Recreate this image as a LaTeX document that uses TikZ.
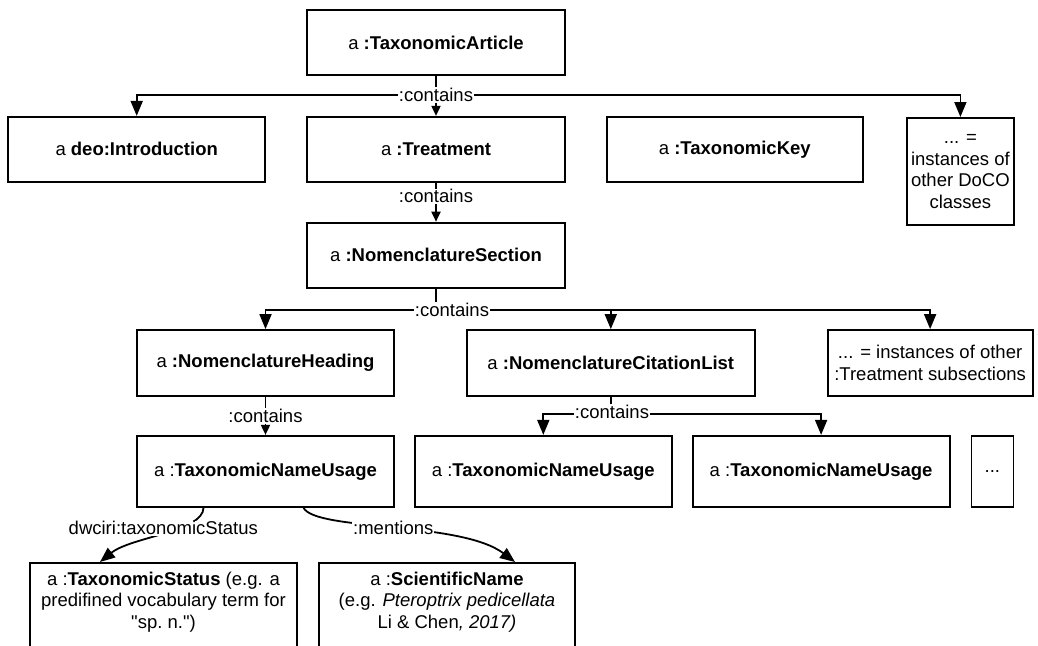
\documentclass[tikz,border=0pt]{standalone}
\usepackage{fontspec}
\setmainfont{Liberation Sans}[Ligatures=TeXOff]
\usetikzlibrary{arrows.meta,positioning}
\tikzset{
  classbox/.style={
    draw, line width=1.8pt, align=center, inner sep=2pt,
    font=\fontsize{18.5}{21.5}\selectfont,
  },
  rowbox/.style={classbox, minimum width=258pt, minimum height=65pt},
  cutbox/.style={classbox, anchor=north, inner ysep=9pt, text depth=40pt},
  link/.style={line width=1.8pt},
  arrow/.style={-{Triangle[length=15pt,width=12pt]}, line width=1.8pt},
  sarrow/.style={-{Triangle[length=10pt,width=9pt]}, line width=1.8pt},
  lbl/.style={fill=white, inner sep=1pt, font=\fontsize{18.5}{21.5}\selectfont},
}
\begin{document}
\begin{tikzpicture}[x=1pt,y=1pt]
  \path[use as bounding box, clip] (0,0) rectangle (1038,-645);

  % article and its parts
  \node[rowbox] (article) at (436,-42.5) {a \textbf{:TaxonomicArticle}};
  \node[rowbox, below=40pt of article] (treatment) {a \textbf{:Treatment}};
  \node[rowbox, minimum width=257pt, left=40pt of treatment] (intro) {a \textbf{deo:Introduction}};
  \node[rowbox, minimum width=256pt, right=40pt of treatment] (taxkey) {a \textbf{:TaxonomicKey}};
  \node[classbox, minimum width=107pt, minimum height=107pt, inner xsep=1pt,
        anchor=north west] (doco) at (906,-117)
    {... =\\instances of\\other DoCO\\classes};

  % treatment subsections
  \node[rowbox, below=39pt of treatment] (section) {a \textbf{:NomenclatureSection}};
  \node[rowbox, minimum width=257pt, minimum height=66pt] (heading) at (265.5,-363)
    {a \textbf{:NomenclatureHeading}};
  \node[rowbox, minimum width=288pt, minimum height=66pt, right=71pt of heading] (citlist)
    {a \textbf{:NomenclatureCitationList}};
  \node[rowbox, minimum width=205pt, minimum height=66pt, right=71pt of citlist] (subsec)
    {... = instances of other\\:Treatment subsections};

  % name usages
  \node[rowbox, minimum width=257pt, minimum height=71pt, below=38pt of heading] (tnu1)
    {a :\textbf{TaxonomicNameUsage}};
  \node[rowbox, minimum width=257pt, minimum height=71pt, right=19pt of tnu1] (tnu2)
    {a :\textbf{TaxonomicNameUsage}};
  \node[rowbox, minimum width=257pt, minimum height=71pt, right=19pt of tnu2] (tnu3)
    {a :\textbf{TaxonomicNameUsage}};
  \node[classbox, minimum width=42pt, minimum height=71pt, right=20pt of tnu3] (more) {...};

  % status and name
  \node[cutbox, minimum width=267pt] (tstatus) at (163.5,-562)
    {a :\textbf{TaxonomicStatus} (e.g. a\\predifined vocabulary term for\\"sp.\ n.")};
  \node[cutbox, minimum width=256pt] (sciname) at (447,-562)
    {a :\textbf{ScientificName}\\(e.g. \textit{Pteroptrix pedicellata}\\Li \& Chen\textit{, 2017)}};

  % connectors
  \node[lbl] (c1) at (436,-95) {:contains};
  \draw[link] (article) -- (c1);
  \draw[sarrow] (c1) -- (treatment);
  \draw[arrow] (c1) -| (intro);
  \draw[arrow] (c1) -| (doco);

  \draw[sarrow] (treatment) -- node[lbl, pos=0.35] {:contains} (section);

  \node[lbl] (c2) at (452,-310) {:contains};
  \draw[link] (section) -- (section |- c2.north);
  \draw[arrow] (c2) -| (heading);
  \draw[arrow] (c2) -| (citlist);
  \draw[arrow] (c2) -| (subsec);

  \draw[sarrow] (heading) -- node[lbl] {:contains} (tnu1);

  \node[lbl] (c3) at (612,-412) {:contains};
  \draw[link] (citlist) -- (citlist |- c3.north);
  \draw[arrow] ([yshift=-2pt]c3.west) -| (tnu2);
  \draw[arrow] ([yshift=-2pt]c3.east) -| (tnu3);

  \draw[arrow] ([xshift=-62pt]tnu1.south)
    to[out=-90, in=39, out looseness=0.52, in looseness=0.87]
    node[lbl, pos=0.5, yshift=6pt] {dwciri:taxonomicStatus}
    ([xshift=-63.5pt]tstatus.north);
  \draw[arrow] ([xshift=38pt]tnu1.south)
    to[out=-63, in=143, out looseness=0.31, in looseness=0.8]
    node[lbl, pos=0.5] {:mentions}
    ([xshift=68pt]sciname.north);

\end{tikzpicture}
\end{document}
